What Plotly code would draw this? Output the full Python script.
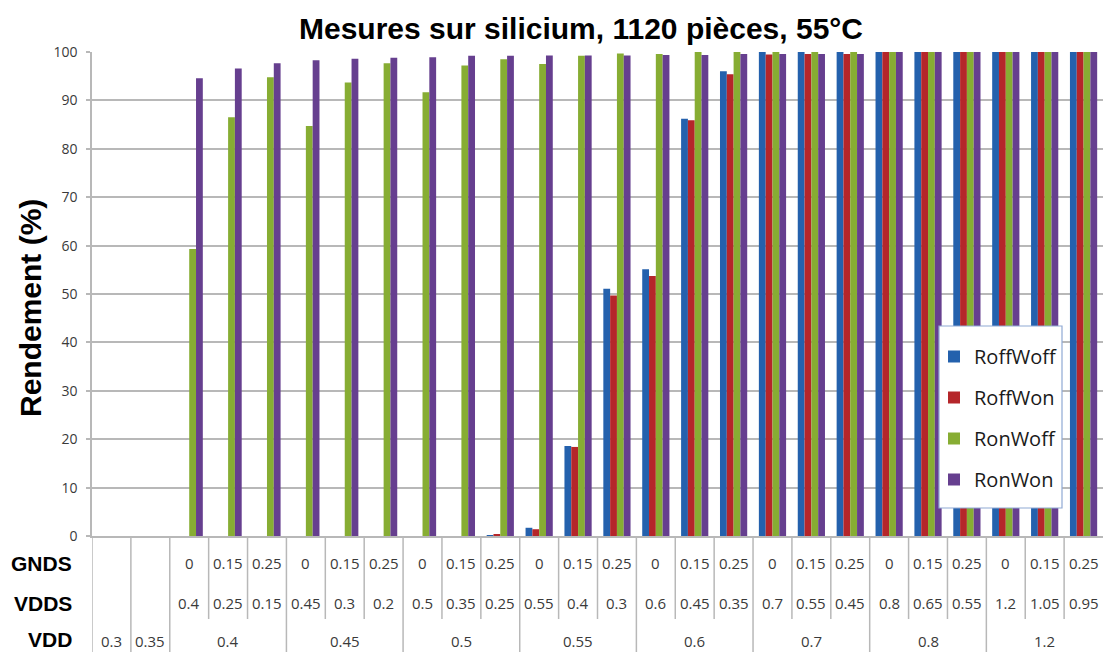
import plotly.graph_objects as go

# Operating points: VDD level, with GNDS / VDDS sub-conditions
vdd = [0.3, 0.35,
       0.4, 0.4, 0.4,
       0.45, 0.45, 0.45,
       0.5, 0.5, 0.5,
       0.55, 0.55, 0.55,
       0.6, 0.6, 0.6,
       0.7, 0.7, 0.7,
       0.8, 0.8, 0.8,
       1.2, 1.2, 1.2]
gnds = [None, None] + [0, 0.15, 0.25] * 8
vdds = [None, None,
        0.4, 0.25, 0.15,
        0.45, 0.3, 0.2,
        0.5, 0.35, 0.25,
        0.55, 0.4, 0.3,
        0.6, 0.45, 0.35,
        0.7, 0.55, 0.45,
        0.8, 0.65, 0.55,
        1.2, 1.05, 0.95]

# Yield (%) per configuration
roff_woff = [0, 0, 0, 0, 0, 0, 0, 0, 0, 0, 0.2,
             1.7, 18.6, 51.1, 55.1, 86.2, 96.0,
             100, 100, 100, 100, 100, 100, 100, 100, 100]
roff_won = [0, 0, 0, 0, 0, 0, 0, 0, 0, 0, 0.4,
            1.4, 18.4, 49.7, 53.7, 85.9, 95.4,
            99.5, 99.6, 99.6, 100, 100, 100, 100, 100, 100]
ron_woff = [0, 0, 59.3, 86.5, 94.8, 84.7, 93.7, 97.7, 91.7, 97.2, 98.5,
            97.5, 99.2, 99.7, 99.6, 100, 100,
            100, 100, 100, 100, 100, 100, 100, 100, 100]
ron_won = [0, 0, 94.6, 96.6, 97.7, 98.3, 98.6, 98.8, 98.9, 99.2, 99.2,
           99.3, 99.3, 99.3, 99.4, 99.4, 99.6,
           99.6, 99.6, 99.6, 100, 100, 100, 100, 100, 100]

series = [
    ("RoffWoff", roff_woff, "#2461ad"),
    ("RoffWon", roff_won, "#b5262a"),
    ("RonWoff", ron_woff, "#87ad33"),
    ("RonWon", ron_won, "#663f8f"),
]

W, H = 1103, 652
L, R, T, B = 92, 0, 52, 116
PW, PH = W - L - R, H - T - B


def fx(px):
    return (px - L) / PW


def fy(py):
    return (T + PH - py) / PH


x = list(range(len(vdd)))

fig = go.Figure()
for name, vals, col in series:
    fig.add_trace(go.Bar(
        x=x, y=vals, name=name, legendgroup=name,
        marker=dict(color=col, line=dict(width=0)),
    ))

table_font = dict(family="Open Sans", size=15, color="#3a3a3a")
label_font = dict(family="Liberation Sans", size=21, color="#000000")
grid_col = "#b8b8b8"

annotations = []
shapes = []

# Category values under the axis
for i in x:
    if gnds[i] is not None:
        annotations.append(dict(x=i, y=fy(563), xref="x", yref="paper",
                                text=f"{gnds[i]:g}", showarrow=False,
                                font=table_font, xanchor="center", yanchor="middle"))
    if vdds[i] is not None:
        annotations.append(dict(x=i, y=fy(603), xref="x", yref="paper",
                                text=f"{vdds[i]:g}", showarrow=False,
                                font=table_font, xanchor="center", yanchor="middle"))

# VDD groups: one label centred under each run of equal values
start = 0
for i in range(1, len(vdd) + 1):
    if i == len(vdd) or vdd[i] != vdd[start]:
        annotations.append(dict(x=(start + i - 1) / 2, y=fy(641), xref="x", yref="paper",
                                text=f"{vdd[start]:g}", showarrow=False,
                                font=table_font, xanchor="center", yanchor="middle"))
        start = i

# Separators between categories
for i in range(len(vdd)):
    full = i == 0 or vdd[i] != vdd[i - 1]
    shapes.append(dict(type="line", xref="x", yref="paper",
                       x0=i - 0.5, x1=i - 0.5, y0=0, y1=fy(652) if full else fy(619),
                       line=dict(color=grid_col, width=1.5)))

# Row headers
for txt, py in [("GNDS", 563), ("VDDS", 603), ("VDD", 639)]:
    annotations.append(dict(x=fx(74), y=fy(py), xref="paper", yref="paper",
                            text=f"<b>{txt}</b>", showarrow=False, font=label_font,
                            xanchor="right", yanchor="middle"))

# Y-axis title
annotations.append(dict(x=fx(30), y=fy(308), xref="paper", yref="paper",
                        text="<b>Rendement (%)</b>", showarrow=False, textangle=-90,
                        font=dict(family="Liberation Sans", size=30, color="#000000"),
                        xanchor="center", yanchor="middle"))

# Legend frame
shapes.append(dict(type="rect", xref="paper", yref="paper", layer="above",
                   x0=fx(939), x1=fx(1062), y0=fy(508), y1=fy(326),
                   fillcolor="white", line=dict(color="#8fa9d4", width=1.2)))

fig.update_layout(
    width=W, height=H,
    margin=dict(l=L, r=R, t=T, b=B, pad=0),
    paper_bgcolor="white", plot_bgcolor="white",
    barmode="group", bargap=0.3, bargroupgap=0,
    title=dict(text="<b>Mesures sur silicium, 1120 pièces, 55°C</b>",
               x=581 / W, xref="container", xanchor="center",
               y=1 - 28 / H, yref="container", yanchor="middle",
               font=dict(family="Liberation Sans", size=30, color="#000000")),
    xaxis=dict(range=[-0.5, len(vdd) - 0.5], showticklabels=False, ticks="",
               showgrid=False, zeroline=False, showline=True,
               linecolor=grid_col, linewidth=1.5, fixedrange=True),
    yaxis=dict(range=[0, 100], dtick=10, showgrid=True, gridcolor=grid_col, gridwidth=1.5,
               zeroline=False, showline=True, linecolor=grid_col, linewidth=1.5,
               ticks="outside", ticklen=4, tickcolor=grid_col, tickwidth=1.5,
               ticklabelstandoff=6,
               tickfont=dict(family="Open Sans", size=14, color="#3a3a3a")),
    legend=dict(x=fx(934), y=fy(337), xanchor="left", yanchor="top",
                bgcolor="rgba(0,0,0,0)", borderwidth=0,
                traceorder="grouped", tracegroupgap=12,
                font=dict(family="Open Sans", size=20, color="#1a1a1a")),
    annotations=annotations,
    shapes=shapes,
    showlegend=True,
)

fig.write_html("out.html")
